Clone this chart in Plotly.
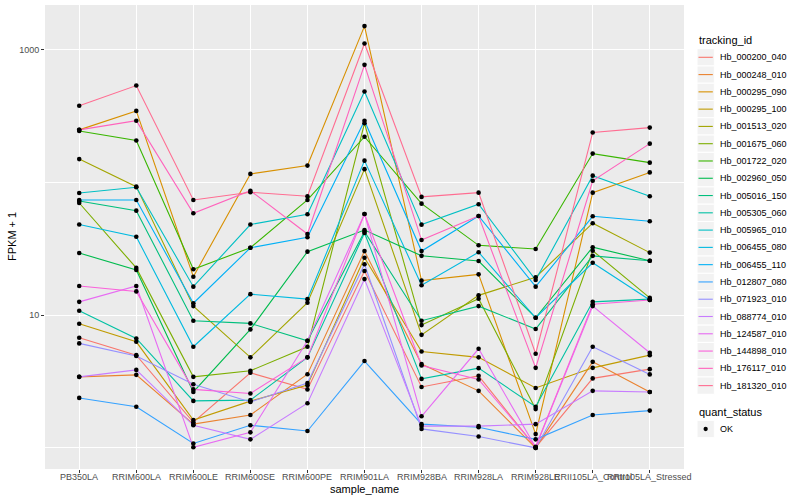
import plotly.graph_objects as go

samples = ["PB350LA", "RRIM600LA", "RRIM600LE", "RRIM600SE", "RRIM600PE", "RRIM901LA",
           "RRIM928BA", "RRIM928LA", "RRIM928LE", "RRII105LA_Control", "RRII105LA_Stressed"]

tracking_ids = ["Hb_000200_040", "Hb_000248_010", "Hb_000295_090", "Hb_000295_100",
                "Hb_001513_020", "Hb_001675_060", "Hb_001722_020", "Hb_002960_050",
                "Hb_005016_150", "Hb_005305_060", "Hb_005965_010", "Hb_006455_080",
                "Hb_006455_110", "Hb_012807_080", "Hb_071923_010", "Hb_088774_010",
                "Hb_124587_010", "Hb_144898_010", "Hb_176117_010", "Hb_181320_010"]

colors = ["#F8766D", "#EA8331", "#D89000", "#C09B00", "#A3A500", "#7CAE00", "#39B600",
          "#00BB4E", "#00BF7D", "#00C1A3", "#00BFC4", "#00BAE0", "#00B0F6", "#35A2FF",
          "#9590FF", "#C77CFF", "#E76BF3", "#FA62DB", "#FF62BC", "#FF6C91"]

# FPKM + 1 values, one list per tracking_id, in sample order
Hb_000200_040 = [6.76, 5.00, 1.56, 3.68, 2.76, 21.5, 2.88, 3.49, 1.01, 3.34, 3.92]
Hb_000248_010 = [3.43, 3.55, 1.51, 1.77, 3.59, 30.4, 4.28, 2.69, 1.00, 4.45, 2.64]
Hb_000295_090 = [249, 346, 19.5, 116, 134, 1507, 18.2, 20.3, 1.27, 83.8, 119]
Hb_000295_100 = [8.61, 6.30, 1.62, 2.25, 2.97, 27.1, 5.33, 4.81, 2.83, 4.01, 5.00]
Hb_001513_020 = [150, 93, 11.7, 4.81, 12.4, 126, 7.11, 14.1, 19.3, 49.3, 29.6]
Hb_001675_060 = [70.0, 22.7, 3.43, 3.81, 5.78, 279, 8.42, 13.3, 1.96, 30.6, 13.5]
Hb_001722_020 = [244, 207, 22.2, 32.2, 73.8, 221, 69.2, 33.6, 31.5, 165, 141]
Hb_002960_050 = [29.4, 21.9, 2.64, 7.81, 30.1, 43.8, 28.0, 25.6, 9.56, 32.5, 25.7]
Hb_005016_150 = [72.5, 61.3, 9.08, 8.67, 6.41, 42.6, 9.08, 11.7, 7.86, 28.0, 25.7]
Hb_005305_060 = [10.8, 6.68, 2.26, 2.29, 4.81, 41.6, 3.31, 3.99, 2.04, 12.6, 13.2]
Hb_005965_010 = [83.3, 92, 16.4, 48.2, 57.6, 484, 48.1, 68.5, 18.4, 112.5, 78.7]
Hb_006455_080 = [48.2, 39.0, 5.78, 14.4, 13.2, 146, 16.8, 29.8, 9.56, 24.8, 13.0]
Hb_006455_110 = [73.8, 73.8, 12.3, 32.2, 38.6, 292, 30.4, 55.9, 16.4, 55.6, 51.0]
Hb_012807_080 = [2.38, 2.04, 1.08, 1.48, 1.34, 4.51, 1.51, 1.43, 1.16, 1.77, 1.91]
Hb_071923_010 = [6.13, 4.92, 3.02, 2.22, 3.08, 24.2, 1.39, 1.22, 1.00, 5.78, 3.58]
Hb_088774_010 = [3.43, 3.87, 1.48, 1.16, 2.17, 18.7, 1.46, 1.46, 1.51, 2.69, 2.64]
Hb_124587_010 = [12.6, 16.6, 1.01, 1.31, 6.41, 57.9, 1.73, 5.58, 1.01, 11.7, 5.21]
Hb_144898_010 = [16.6, 15.1, 2.76, 2.57, 4.81, 57.9, 4.18, 3.28, 1.02, 12.1, 13.0]
Hb_176117_010 = [249, 292, 58.6, 86.7, 40.9, 769, 36.8, 55.9, 4.01, 103, 196]
Hb_181320_010 = [378, 537, 73.8, 84.4, 78.7, 1113, 77.8, 83.8, 5.12, 238, 259]

series = [Hb_000200_040, Hb_000248_010, Hb_000295_090, Hb_000295_100, Hb_001513_020,
          Hb_001675_060, Hb_001722_020, Hb_002960_050, Hb_005016_150, Hb_005305_060,
          Hb_005965_010, Hb_006455_080, Hb_006455_110, Hb_012807_080, Hb_071923_010,
          Hb_088774_010, Hb_124587_010, Hb_144898_010, Hb_176117_010, Hb_181320_010]

FONT = "Liberation Sans, Arial, sans-serif"

fig = go.Figure()
for name, vals, col in zip(tracking_ids, series, colors):
    fig.add_trace(go.Scatter(x=samples, y=vals, mode="lines", name=name,
                             line=dict(color=col, width=1.1), showlegend=False,
                             hoverinfo="skip"))
for name, vals in zip(tracking_ids, series):
    fig.add_trace(go.Scatter(x=samples, y=vals, mode="markers", name=name,
                             marker=dict(color="black", size=4.6), showlegend=False))

# plot panel in pixels
L, R, T, B = 45, 684, 5, 469
W, H = 800, 500


def px(x):
    return (x - L) / (R - L)


def py(y):
    return (B - y) / (B - T)


shapes = []
annotations = []

# x tick labels (placed as text on the category axis)
for s in samples:
    annotations.append(dict(x=s, y=py(476.7), xref="x", yref="paper", text=s,
                            showarrow=False, xanchor="center", yanchor="middle",
                            font=dict(family=FONT, size=9, color="#4D4D4D")))

# legend: tracking_id
annotations.append(dict(x=px(697), y=py(40.5), xref="paper", yref="paper", text="tracking_id",
                        showarrow=False, xanchor="left", yanchor="middle",
                        font=dict(family=FONT, size=11, color="black")))
key_h = 17.28
for i, (name, col) in enumerate(zip(tracking_ids, colors)):
    cy = 57.3 + i * key_h
    shapes.append(dict(type="rect", xref="paper", yref="paper",
                       x0=px(697), x1=px(714.3), y0=py(cy - key_h / 2), y1=py(cy + key_h / 2),
                       fillcolor="#F2F2F2", line=dict(color="white", width=1), layer="above"))
    shapes.append(dict(type="line", xref="paper", yref="paper",
                       x0=px(698.5), x1=px(712.8), y0=py(cy), y1=py(cy),
                       line=dict(color=col, width=1.1), layer="above"))
    annotations.append(dict(x=px(717.5), y=py(cy), xref="paper", yref="paper", text=name,
                            showarrow=False, xanchor="left", yanchor="middle",
                            font=dict(family=FONT, size=9, color="black")))

# legend: quant_status
annotations.append(dict(x=px(697), y=py(412), xref="paper", yref="paper", text="quant_status",
                        showarrow=False, xanchor="left", yanchor="middle",
                        font=dict(family=FONT, size=11, color="black")))
cy = 429
shapes.append(dict(type="rect", xref="paper", yref="paper",
                   x0=px(697), x1=px(714.3), y0=py(cy - key_h / 2), y1=py(cy + key_h / 2),
                   fillcolor="#F2F2F2", line=dict(color="white", width=1), layer="above"))
shapes.append(dict(type="circle", xref="paper", yref="paper",
                   x0=px(703.5), x1=px(707.8), y0=py(cy - 2.15), y1=py(cy + 2.15),
                   fillcolor="black", line=dict(color="black", width=0), layer="above"))
annotations.append(dict(x=px(717.5), y=py(cy), xref="paper", yref="paper", text="OK",
                        showarrow=False, xanchor="left", yanchor="middle",
                        font=dict(family=FONT, size=9, color="black")))

# axis titles
annotations.append(dict(x=px((L + R) / 2), y=py(489), xref="paper", yref="paper",
                        text="sample_name", showarrow=False, xanchor="center", yanchor="middle",
                        font=dict(family=FONT, size=11, color="black")))
annotations.append(dict(x=px(12), y=py((T + B) / 2), xref="paper", yref="paper",
                        text="FPKM + 1", showarrow=False, xanchor="center", yanchor="middle",
                        textangle=-90, font=dict(family=FONT, size=11, color="black")))

fig.update_layout(
    width=W, height=H,
    margin=dict(l=L, r=W - R, t=T, b=H - B, pad=0),
    paper_bgcolor="white", plot_bgcolor="#EBEBEB",
    font=dict(family=FONT, size=9, color="#4D4D4D"),
    shapes=shapes, annotations=annotations,
    showlegend=False,
    xaxis=dict(type="category", categoryorder="array", categoryarray=samples,
               range=[-0.6, len(samples) - 0.4], showgrid=True, gridcolor="white",
               gridwidth=1.1, zeroline=False, showline=False, ticks="outside", ticklen=3,
               tickcolor="#333333", tickwidth=1, tickangle=0, automargin=False,
               showticklabels=False),
    yaxis=dict(type="log", range=[-0.159, 3.337], tickvals=[10, 1000], ticktext=["10", "1000"],
               showgrid=True, gridcolor="white", gridwidth=1.1, zeroline=False, showline=False,
               ticks="outside", ticklen=3, tickcolor="#333333", tickwidth=1, automargin=False,
               tickfont=dict(family=FONT, size=9, color="#4D4D4D"),
               minor=dict(tickvals=[1, 100], showgrid=True, gridcolor="white", gridwidth=0.55,
                          ticks="")),
)

fig.write_html(
    "out.html",
    config={"displayModeBar": False},
    post_script="document.body.style.margin='0';document.body.style.padding='0';"
                "document.documentElement.style.overflow='hidden';",
)
